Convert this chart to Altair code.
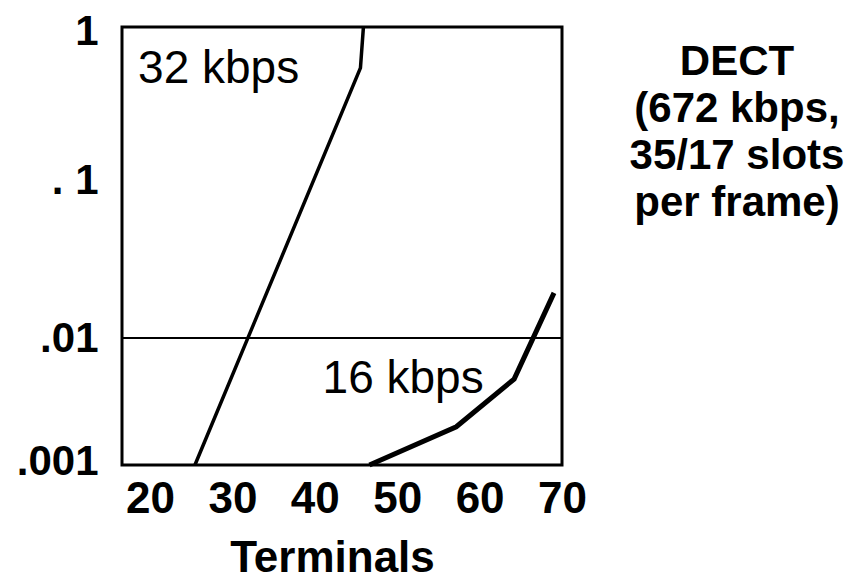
import altair as alt
import pandas as pd

# ---- data ----
kbps32_terminals = [25.45, 45.54, 45.9]
kbps32_prob = [0.001, 0.54, 1.0]

kbps16_terminals = [46.63, 57.17, 64.19, 69.03]
kbps16_prob = [0.001, 0.0020, 0.00475, 0.0193]

x_ticks = [20, 30, 40, 50, 60, 70]
y_ticks = [0.001, 0.01, 0.1, 1]
y_tick_labels = [".001", ".01", ". 1", "1"]
threshold = [0.01]

series_labels = ["32 kbps", "16 kbps"]
series_label_x = [18.55, 40.94]
series_label_y = [0.43, 0.00369]

side_text = ["DECT", "(672 kbps,", "35/17 slots", "per frame)"]

FONT = "Liberation Sans, Arial, Helvetica, sans-serif"

df32 = pd.DataFrame({"terminals": kbps32_terminals, "prob": kbps32_prob})
df16 = pd.DataFrame({"terminals": kbps16_terminals, "prob": kbps16_prob})
df_rule = pd.DataFrame({"prob": threshold})
df_lab = pd.DataFrame({"label": series_labels, "terminals": series_label_x, "prob": series_label_y})

label_expr = "".join(
    f"datum.value == {v} ? '{l}' : " for v, l in zip(y_ticks, y_tick_labels)
) + "''"

x_enc = alt.X(
    "terminals:Q",
    scale=alt.Scale(domain=[16.6, 70], nice=False, zero=False),
    axis=alt.Axis(
        values=x_ticks, format="d", title="Terminals",
        grid=False, ticks=False, domain=False, tickSize=0,
        labelFont=FONT, labelFontSize=44, labelFontWeight="bold", labelColor="black",
        labelPadding=12, labelFlush=False, labelOverlap=False,
        titleFont=FONT, titleFontSize=44, titleFontWeight="bold", titleColor="black",
        titleX=210, titleY=106, titleBaseline="alphabetic", titleAlign="center",
    ),
)
y_enc = alt.Y(
    "prob:Q",
    scale=alt.Scale(type="log", domain=y_ticks, range=[438, 311, 153, 0], nice=False),
    axis=alt.Axis(
        values=y_ticks, labelExpr=label_expr, title=None,
        grid=False, ticks=False, domain=False, tickSize=0,
        labelFont=FONT, labelFontSize=42, labelFontWeight="bold", labelColor="black",
        labelPadding=24, labelOverlap=False, labelFlush=False,
        labelOffset={
            "condition": [
                {"test": "datum.value == 1", "value": 4},
                {"test": "datum.value == 0.001", "value": -4},
            ],
            "value": 0,
        },
    ),
)

line32 = alt.Chart(df32).mark_line(color="black", strokeWidth=3.5).encode(x=x_enc, y=y_enc)
line16 = alt.Chart(df16).mark_line(color="black", strokeWidth=5).encode(x=x_enc, y=y_enc)
rule = alt.Chart(df_rule).mark_rule(color="black", strokeWidth=2).encode(y=y_enc)
labels = alt.Chart(df_lab).mark_text(
    align="left", baseline="alphabetic", font=FONT, fontSize=46, color="black"
).encode(x=x_enc, y=y_enc, text="label:N")
side = alt.Chart(pd.DataFrame({"k": [0]})).mark_text(
    align="center", baseline="alphabetic", font=FONT, fontSize=42,
    fontWeight="bold", color="black", lineHeight=47
).encode(x=alt.value(615), y=alt.value(48), text=alt.value(side_text))

chart = alt.layer(rule, line32, line16, labels, side).properties(
    width=440, height=438,
    autosize=alt.AutoSizeParams(type="none"),
    padding={"left": 114, "top": 19, "right": 291, "bottom": 116},
).configure(background="white").configure_view(stroke="black", strokeWidth=3)

chart.save("out.html", embed_options={"renderer": "svg", "actions": False})
